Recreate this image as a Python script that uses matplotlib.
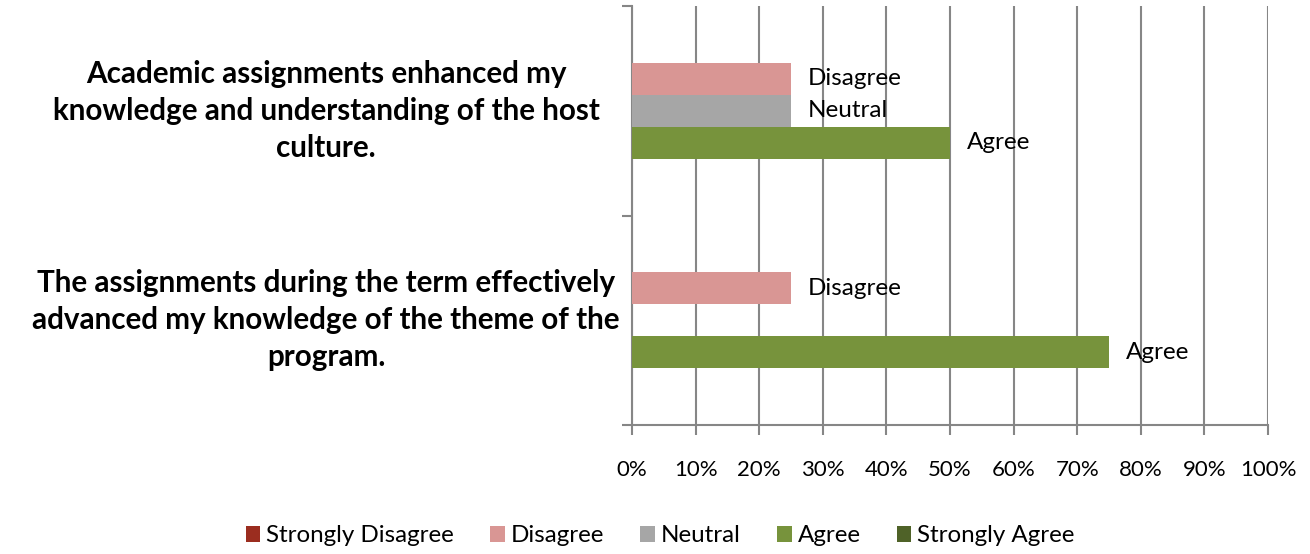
import matplotlib
matplotlib.use("Agg")
import matplotlib.pyplot as plt
from matplotlib.patches import Patch

categories = [
    "The assignments during the term effectively\nadvanced my knowledge of the theme of the\nprogram.",
    "Academic assignments enhanced my\nknowledge and understanding of the host\nculture.",
]
series = ["Strongly Disagree", "Disagree", "Neutral", "Agree", "Strongly Agree"]
colors = ["#9B2D1F", "#D99694", "#A6A6A6", "#77933C", "#4F6228"]
# values per series, order matches categories (bottom, top)
strongly_disagree = [0.0, 0.0]
disagree = [0.25, 0.25]
neutral = [0.0, 0.25]
agree = [0.75, 0.50]
strongly_agree = [0.0, 0.0]
values = [strongly_disagree, disagree, neutral, agree, strongly_agree]
xticks = [i / 10 for i in range(11)]
xticklabels = [f"{i*10}%" for i in range(11)]

FONT = "Lato"
plt.rcParams["font.family"] = [FONT, "DejaVu Sans"]

W, H = 1310, 554
fig = plt.figure(figsize=(W / 100, H / 100), dpi=100)
x0, x1, ytop, ybot = 632, 1268, 6, 425
ax = fig.add_axes([x0 / W, 1 - ybot / H, (x1 - x0) / W, (ybot - ytop) / H])

h = 32 / (ybot - ytop) * 2
ypos = [0, 1]
grid_c = "#868686"
for i, (name, vals, c) in enumerate(zip(series, values, colors)):
    off = (2 - i) * h
    ys = [y + off for y in ypos]
    ax.barh(ys, vals, height=h, color=c, zorder=3)
    for y, v in zip(ys, vals):
        if v > 0:
            ax.text(v + 0.027, y, name, va="center", ha="left", fontsize=17.5, zorder=4)

ax.set_xlim(0, 1)
ax.set_ylim(-0.5, 1.5)
ax.set_xticks(xticks)
ax.set_xticklabels(xticklabels, fontsize=16)
ax.set_yticks([-0.5, 0.5, 1.5])
ax.set_yticklabels([])
ax.tick_params(axis="both", length=7, width=1.5, color=grid_c, pad=18)
ax.xaxis.grid(True, color=grid_c, linewidth=1.5, zorder=0)
for s in ["top", "right"]:
    ax.spines[s].set_visible(False)
for s in ["left", "bottom"]:
    ax.spines[s].set_color(grid_c)
    ax.spines[s].set_linewidth(1.5)

for y, cat in zip(ypos, categories):
    yd = ax.transData.transform((0, y))[1]
    yf = fig.transFigure.inverted().transform((0, yd))[1]
    fig.text(326 / W, yf, cat, ha="center", va="center", fontsize=21.3,
             fontweight="bold", linespacing=1.4)

handles = [Patch(facecolor=c, edgecolor="none") for c in colors]
fig.legend(handles, series, loc="center", bbox_to_anchor=(0.504, 1 - 536 / H), ncol=5,
           frameon=False, fontsize=17.4, handlelength=0.6, handleheight=0.6,
           handletextpad=0.25, columnspacing=1.5, borderpad=0, borderaxespad=0)

fig.savefig("out.png", dpi=100)
